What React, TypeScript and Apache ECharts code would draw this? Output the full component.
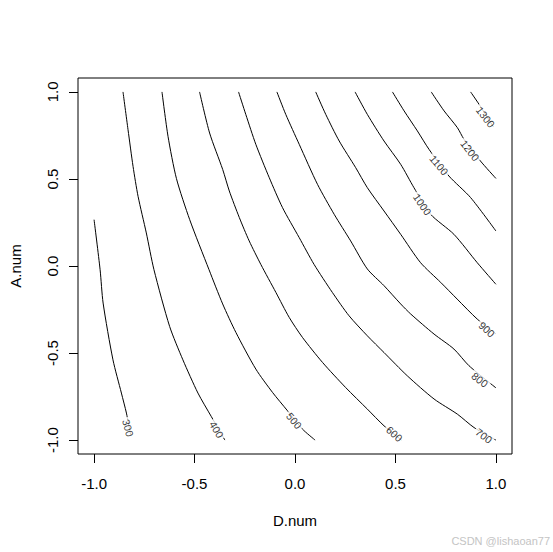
import React, { useEffect, useRef } from "react";
import * as echarts from "echarts";

// Contour levels
const levels = [300, 400, 500, 600, 700, 800, 900, 1000, 1100, 1200, 1300];

// Contour lines: [D.num, A.num]
const c300 = [[-1.0, 0.266], [-0.97, -0.021], [-0.955, -0.213], [-0.906, -0.539], [-0.864, -0.73], [-0.839, -0.845], [-0.818, -0.97]];
const c400 = [[-0.856, 1.0], [-0.831, 0.783], [-0.806, 0.572], [-0.781, 0.4], [-0.74, 0.19], [-0.702, -0.021], [-0.624, -0.347], [-0.558, -0.539], [-0.483, -0.73], [-0.417, -0.864], [-0.349, -1.0]];
const c500 = [[-0.662, 1.0], [-0.632, 0.745], [-0.59, 0.502], [-0.524, 0.266], [-0.428, -0.021], [-0.36, -0.218], [-0.294, -0.382], [-0.195, -0.592], [-0.112, -0.726], [-0.037, -0.832], [0.037, -0.937], [0.1, -1.0]];
const c600 = [[-0.475, 1.0], [-0.425, 0.764], [-0.36, 0.555], [-0.327, 0.431], [-0.277, 0.278], [-0.228, 0.144], [-0.17, 0.009], [-0.095, -0.152], [-0.029, -0.295], [0.037, -0.41], [0.137, -0.554], [0.252, -0.698], [0.36, -0.822], [0.443, -0.918], [0.53, -1.0]];
const c700 = [[-0.281, 1.0], [-0.245, 0.871], [-0.195, 0.699], [-0.128, 0.507], [-0.062, 0.335], [0.021, 0.163], [0.095, 0.009], [0.186, -0.152], [0.269, -0.286], [0.36, -0.401], [0.443, -0.497], [0.559, -0.631], [0.692, -0.764], [0.808, -0.851], [0.891, -0.928], [1.0, -1.0]];
const c800 = [[-0.09, 1.0], [-0.046, 0.871], [0.021, 0.699], [0.112, 0.469], [0.195, 0.297], [0.277, 0.144], [0.36, -0.017], [0.443, -0.113], [0.526, -0.218], [0.576, -0.276], [0.692, -0.391], [0.791, -0.477], [0.866, -0.573], [1.0, -0.7]];
const c900 = [[0.103, 1.0], [0.153, 0.871], [0.22, 0.718], [0.302, 0.565], [0.36, 0.45], [0.443, 0.316], [0.526, 0.182], [0.625, 0.019], [0.725, -0.094], [0.807, -0.19], [0.907, -0.305], [1.0, -0.39]];
const c1000 = [[0.299, 1.0], [0.36, 0.871], [0.443, 0.718], [0.526, 0.584], [0.592, 0.45], [0.675, 0.297], [0.791, 0.182], [0.907, 0.019], [1.0, -0.105]];
const c1100 = [[0.485, 1.0], [0.543, 0.891], [0.609, 0.776], [0.667, 0.67], [0.766, 0.517], [0.874, 0.393], [1.0, 0.201]];
const c1200 = [[0.678, 1.0], [0.742, 0.891], [0.808, 0.795], [0.841, 0.728], [0.923, 0.603], [1.0, 0.503]];
const c1300 = [[0.874, 1.0], [0.916, 0.929], [0.987, 0.8]];
const contourLines = [c300, c400, c500, c600, c700, c800, c900, c1000, c1100, c1200, c1300];

// Contour label positions and angles
const labelX = [-0.83, -0.392, -0.004, 0.493, 0.94, 0.92, 0.953, 0.634, 0.717, 0.871, 0.948];
const labelY = [-0.93, -0.941, -0.889, -0.966, -0.975, -0.653, -0.366, 0.354, 0.58, 0.664, 0.856];
const labelAngle = [-75, -60, -50, -42, -36, -38, -42, -55, -50, -52, -52];

// Axis ticks
const tickValues = [-1.0, -0.5, 0.0, 0.5, 1.0];
const xTitle = "D.num";
const yTitle = "A.num";
const watermark = "CSDN @lishaoan77";

const FONT = "'Liberation Sans', Arial, sans-serif";

export default function App() {
  const ref = useRef<HTMLDivElement>(null);
  useEffect(() => {
    if (!ref.current) return;
    const chart = echarts.init(ref.current, null, { renderer: "svg" });
    const lineSeries = contourLines.map((pts, i) => ({
      type: "line",
      name: String(levels[i]),
      data: pts,
      showSymbol: false,
      symbol: "none",
      smooth: 0.25,
      silent: true,
      lineStyle: { color: "#000", width: 1 },
      z: 2,
    }));
    const labelSeries = {
      type: "scatter",
      symbolSize: 1,
      silent: true,
      itemStyle: { color: "rgba(0,0,0,0)" },
      z: 5,
      label: {
        show: true,
        position: "inside",
        fontSize: 10.5,
        fontFamily: FONT,
        color: "#000",
        backgroundColor: "#fff",
        padding: [0, 2],
      },
      data: levels.map((lv, i) => ({
        value: [labelX[i], labelY[i]],
        label: { formatter: String(lv), rotate: labelAngle[i] },
      })),
    };
    chart.setOption({
      animation: false,
      backgroundColor: "#fff",
      grid: {
        left: 78,
        right: 41,
        top: 78,
        bottom: 98,
        show: true,
        borderColor: "#000",
        borderWidth: 1,
        backgroundColor: "transparent",
      },
      xAxis: {
        type: "value",
        min: -1.08,
        max: 1.08,
        axisLine: { show: false, onZero: false },
        splitLine: { show: false },
        axisTick: {
          show: true,
          inside: false,
          length: 9,
          customValues: tickValues,
          lineStyle: { color: "#000", width: 1 },
        },
        axisLabel: {
          customValues: tickValues,
          formatter: (v: number) => v.toFixed(1),
          fontSize: 15,
          fontFamily: FONT,
          color: "#000",
          margin: 22,
        },
      },
      yAxis: {
        type: "value",
        min: -1.08,
        max: 1.08,
        axisLine: { show: false, onZero: false },
        splitLine: { show: false },
        axisTick: {
          show: true,
          inside: false,
          length: 9,
          customValues: tickValues,
          lineStyle: { color: "#000", width: 1 },
        },
        axisLabel: {
          customValues: tickValues,
          formatter: (v: number) => v.toFixed(1),
          fontSize: 15,
          fontFamily: FONT,
          color: "#000",
          rotate: 90,
          margin: 18,
        },
      },
      graphic: [
        {
          type: "text",
          x: 295,
          y: 520,
          style: { text: xTitle, font: `15px ${FONT}`, fill: "#000", textAlign: "center", textVerticalAlign: "middle" },
        },
        {
          type: "text",
          x: 15,
          y: 266,
          rotation: Math.PI / 2,
          style: { text: yTitle, font: `15px ${FONT}`, fill: "#000", textAlign: "center", textVerticalAlign: "middle" },
        },
        {
          type: "text",
          x: 550,
          y: 541,
          style: { text: watermark, font: `11px ${FONT}`, fill: "#c4c4c4", textAlign: "right", textVerticalAlign: "middle" },
        },
      ],
      series: [...lineSeries, labelSeries],
    });
    return () => chart.dispose();
  }, []);
  return (
    <div
      ref={ref}
      style={{ position: "fixed", left: 0, top: 0, width: 553, height: 552, background: "#fff" }}
    />
  );
}
